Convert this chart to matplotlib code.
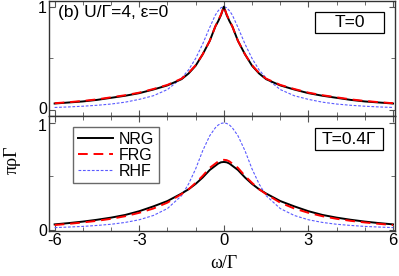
import matplotlib
matplotlib.use("Agg")
import matplotlib.pyplot as plt
import matplotlib.transforms as mtransforms
from matplotlib.patches import Rectangle
from matplotlib.ticker import MultipleLocator

# frequency grid (omega / Gamma)
omega = [-6, -5.5, -5, -4.5, -4, -3.5, -3, -2.5, -2, -1.5, -1.25, -1, -0.75, -0.5, -0.3, -0.2, -0.1,
         0,
         0.1, 0.2, 0.3, 0.5, 0.75, 1, 1.25, 1.5, 2, 2.5, 3, 3.5, 4, 4.5, 5, 5.5, 6]

# T = 0
nrg_t0 = [0.065, 0.075, 0.085, 0.10, 0.12, 0.14, 0.165, 0.20, 0.24, 0.30, 0.355, 0.43, 0.54, 0.67, 0.81, 0.86, 0.92,
          1.0,
          0.92, 0.86, 0.81, 0.67, 0.54, 0.43, 0.355, 0.30, 0.24, 0.20, 0.165, 0.14, 0.12, 0.10, 0.085, 0.075, 0.065]
frg_t0 = [0.068, 0.078, 0.09, 0.105, 0.125, 0.145, 0.17, 0.205, 0.245, 0.305, 0.36, 0.435, 0.54, 0.67, 0.81, 0.865, 0.925,
          1.0,
          0.925, 0.865, 0.81, 0.67, 0.54, 0.435, 0.36, 0.305, 0.245, 0.205, 0.17, 0.145, 0.125, 0.105, 0.09, 0.078, 0.068]
rhf_t0 = [0.027, 0.032, 0.039, 0.048, 0.06, 0.078, 0.105, 0.14, 0.20, 0.31, 0.39, 0.50, 0.64, 0.80, 0.92, 0.96, 0.99,
          1.0,
          0.99, 0.96, 0.92, 0.80, 0.64, 0.50, 0.39, 0.31, 0.20, 0.14, 0.105, 0.078, 0.06, 0.048, 0.039, 0.032, 0.027]

# T = 0.4 Gamma
nrg_t4 = [0.052, 0.064, 0.078, 0.095, 0.115, 0.14, 0.175, 0.22, 0.27, 0.34, 0.38, 0.43, 0.49, 0.56, 0.60, 0.62, 0.632,
          0.635,
          0.632, 0.62, 0.60, 0.56, 0.49, 0.43, 0.38, 0.34, 0.27, 0.22, 0.175, 0.14, 0.115, 0.095, 0.078, 0.064, 0.052]
frg_t4 = [0.046, 0.057, 0.07, 0.085, 0.104, 0.128, 0.16, 0.20, 0.255, 0.335, 0.38, 0.44, 0.505, 0.58, 0.62, 0.64, 0.652,
          0.655,
          0.652, 0.64, 0.62, 0.58, 0.505, 0.44, 0.38, 0.335, 0.255, 0.20, 0.16, 0.128, 0.104, 0.085, 0.07, 0.057, 0.046]
rhf_t4 = [0.022, 0.027, 0.033, 0.042, 0.053, 0.07, 0.095, 0.135, 0.20, 0.32, 0.43, 0.57, 0.74, 0.88, 0.955, 0.98, 0.995,
          1.0,
          0.995, 0.98, 0.955, 0.88, 0.74, 0.57, 0.43, 0.32, 0.20, 0.135, 0.095, 0.07, 0.053, 0.042, 0.033, 0.027, 0.022]

plt.rcParams['font.family'] = ['Liberation Sans', 'DejaVu Sans']
plt.rcParams['axes.unicode_minus'] = False

fig = plt.figure(figsize=(3.99, 2.76), dpi=100)
ax1 = fig.add_axes([0.1228, 0.578, 0.8672, 0.4166])
ax2 = fig.add_axes([0.1228, 0.163, 0.8672, 0.415])

def style(ax, ylo, yhi):
    ax.set_xlim(-6.2, 6.07)
    ax.set_ylim(ylo, yhi)
    ax.xaxis.set_major_locator(MultipleLocator(3))
    ax.xaxis.set_minor_locator(MultipleLocator(1))
    ax.yaxis.set_major_locator(MultipleLocator(1))
    ax.yaxis.set_minor_locator(MultipleLocator(0.5))
    ax.tick_params(which='both', direction='in', top=True, right=True,
                   labelsize=12, pad=1.5, color='#555555')
    ax.tick_params(axis='y', labelsize=11.5)
    ax.tick_params(which='major', length=4)
    ax.tick_params(which='minor', length=3)
    for s in ax.spines.values():
        s.set_linewidth(1.0)
        s.set_color('#333333')

for ax, n, f, r in [(ax1, nrg_t0, frg_t0, rhf_t0), (ax2, nrg_t4, frg_t4, rhf_t4)]:
    ax.plot(omega, r, color='#5a5aff', lw=0.8, ls=(0, (2.5, 1.5)), label='RHF')
    ax.plot(omega, n, color='black', lw=1.4, label='NRG')
    ax.plot(omega, f, color='red', lw=1.4, ls=(0, (5, 3)), label='FRG')

style(ax1, -0.06, 1.05)
style(ax2, -0.01, 1.06)
ax1.tick_params(labelbottom=False)
ax1.set_yticks([0, 1])
ax2.set_yticks([0, 1])

# keep the "0" of the top panel and the "1" of the bottom panel apart
fig.canvas.draw()
up = mtransforms.ScaledTranslation(0, 2 / 100, fig.dpi_scale_trans)
down = mtransforms.ScaledTranslation(0, -2 / 100, fig.dpi_scale_trans)
lab = ax1.get_yticklabels()[0]
lab.set_transform(lab.get_transform() + up)
lab = ax2.get_yticklabels()[1]
lab.set_transform(lab.get_transform() + down)

ax1.text(0.027, 0.905, '(b) U/\u0393=4, \u03b5=0', transform=ax1.transAxes,
         fontsize=12.5, va='center', ha='left')

# temperature boxes
ax1.add_patch(Rectangle((0.769, 0.726), 0.199, 0.183, transform=ax1.transAxes,
                        fc='white', ec='black', lw=0.9, zorder=5))
ax1.text(0.8685, 0.815, 'T=0', transform=ax1.transAxes, fontsize=12.5,
         ha='center', va='center', zorder=6)
ax2.add_patch(Rectangle((0.769, 0.707), 0.197, 0.19, transform=ax2.transAxes,
                        fc='white', ec='black', lw=0.9, zorder=5))
ax2.text(0.8675, 0.80, 'T=0.4\u0393', transform=ax2.transAxes, fontsize=12.5,
         ha='center', va='center', zorder=6)

h, l = ax2.get_legend_handles_labels()
order = [1, 2, 0]
ax2.legend([h[i] for i in order], [l[i] for i in order], loc='upper left',
           bbox_to_anchor=(0.06, 0.935), fontsize=11.5, frameon=True, fancybox=False,
           edgecolor='#444444', handlelength=2.2, handletextpad=0.35,
           borderpad=0.3, labelspacing=0.05, borderaxespad=0.2)

fig.text(0.03, 0.42, '\u03c0\u03c1\u0393', rotation=90, fontsize=13,
         family=['Liberation Serif', 'DejaVu Serif'], ha='center', va='center')
fig.text(0.56, 0.045, '\u03c9/\u0393', fontsize=13,
         family=['Liberation Serif', 'DejaVu Serif'], ha='center', va='center')

fig.savefig('out.png', dpi=100)
